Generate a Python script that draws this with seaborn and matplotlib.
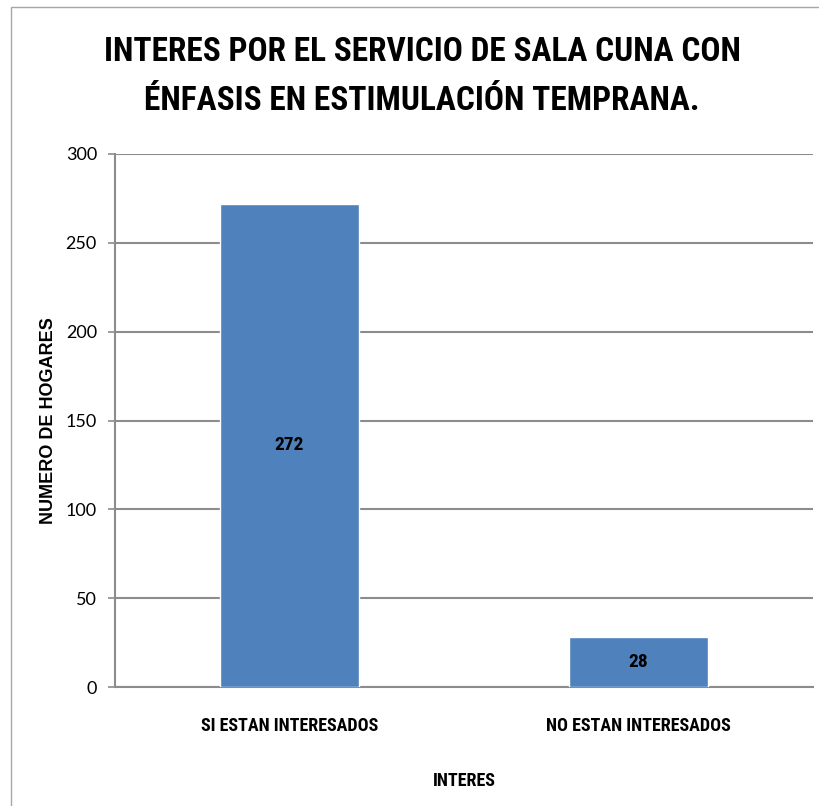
import numpy as np
import pandas as pd
import seaborn as sns
import matplotlib.pyplot as plt
from matplotlib.patches import Rectangle
from matplotlib import font_manager

categorias = ["SI ESTAN INTERESADOS", "NO ESTAN INTERESADOS"]
hogares = [272, 28]
titulo = ["INTERES POR EL SERVICIO DE SALA CUNA CON", "ÉNFASIS EN ESTIMULACIÓN TEMPRANA."]
eje_x = "INTERES"
eje_y = "NUMERO DE HOGARES"

df = pd.DataFrame({"interes": categorias, "hogares": hogares})

sns.set_style("white")
names = {f.name for f in font_manager.fontManager.ttflist}
narrow = "Liberation Sans"
for cand in ["Liberation Sans Narrow", "Roboto Condensed", "Open Sans Condensed",
             "DejaVu Sans Condensed", "Liberation Sans"]:
    if cand in names:
        narrow = cand
        break
plt.rcParams["font.family"] = [narrow, "DejaVu Sans"]
plt.rcParams["text.color"] = "black"
plt.rcParams["axes.labelcolor"] = "black"

fig = plt.figure(figsize=(8.2, 8.06), dpi=100)
ax = fig.add_axes([115 / 820, 1 - 687 / 806, 698 / 820, 533 / 806])

sns.barplot(data=df, x="interes", y="hogares", color="#4F81BD", saturation=1,
            width=0.4, ax=ax, zorder=3)

ax.set_ylim(0, 300)
ax.set_xlim(-0.5, 1.5)
ax.set_yticks(np.arange(0, 301, 50))
ax.yaxis.grid(True, color="#8c8c8c", linewidth=1.5, zorder=0)
ax.set_axisbelow(True)

for s in ["top", "right"]:
    ax.spines[s].set_visible(False)
for s in ["left", "bottom"]:
    ax.spines[s].set_color("#8c8c8c")
    ax.spines[s].set_linewidth(1.5)

ax.tick_params(axis="y", which="major", left=True, length=5, width=1.2,
               color="#8c8c8c", labelcolor="black", labelsize=13, pad=8)
for t in ax.get_yticklabels():
    t.set_family(["Lato", "DejaVu Sans"])
ax.tick_params(axis="x", bottom=False, labelsize=13, pad=18, labelcolor="black")
for t in ax.get_xticklabels():
    t.set_fontweight("bold")

ax.set_xlabel(eje_x, fontsize=13, fontweight="bold")
ax.xaxis.set_label_coords(0.5, -0.16)
ax.set_ylabel(eje_y, fontsize=13, fontweight="bold", family=["Liberation Sans", "DejaVu Sans"])
ax.yaxis.set_label_coords(-0.083, 0.5)

for c in ax.containers:
    ax.bar_label(c, label_type="center", fontsize=14, fontweight="bold", color="black")

# title lines, sized so that the first line spans about 638 px like the reference
t1 = fig.text(422 / 820, 1 - 52 / 806, titulo[0], ha="center", va="center",
              fontsize=28, fontweight="bold")
t2 = fig.text(422 / 820, 1 - 101 / 806, titulo[1], ha="center", va="center",
              fontsize=28, fontweight="bold")
r = fig.canvas.get_renderer()
w = t1.get_window_extent(r).width
size = min(28 * 638 / w, 34)
t1.set_fontsize(size)
t2.set_fontsize(size)

fig.patches.append(Rectangle((11 / 820, -0.1), 2, 1.1 - 7 / 806, transform=fig.transFigure,
                             fill=False, edgecolor="#a6a6a6", linewidth=1))

fig.savefig("out.png", dpi=100)
